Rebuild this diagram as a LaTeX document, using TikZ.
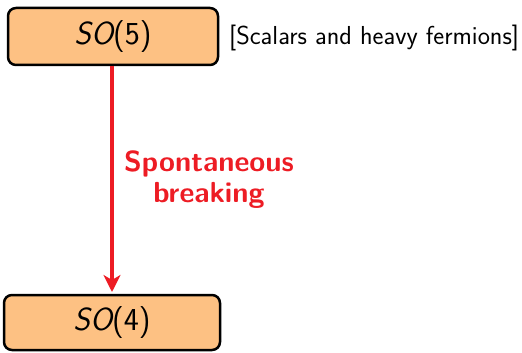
\documentclass[tikz,border=0pt]{standalone}
\usepackage{fontspec}
\usetikzlibrary{arrows.meta}
\definecolor{boxfill}{RGB}{253,193,131}
\definecolor{brkred}{RGB}{237,28,36}
\tikzset{
  grp/.style={draw=black, line width=2.5pt, fill=boxfill, rounded corners=8pt,
    font=\fontsize{32}{36}\selectfont\sffamily, inner sep=0pt},
  brk/.style={draw=brkred, line width=3.5pt, -{Stealth[length=17pt,width=17pt,inset=5pt]}},
}
\begin{document}
\begin{tikzpicture}[x=1pt,y=1pt]
\useasboundingbox (0,0) rectangle (522,-353);
\node[grp, minimum width=210pt, minimum height=57pt] (so5) at (113,-36.5) {\itshape SO\upshape(5)};
\node[grp, minimum width=216pt, minimum height=55pt] (so4) at (112,-322.5) {\itshape SO\upshape(4)};
\node[anchor=west, font=\fontsize{26}{30}\selectfont\sffamily, inner sep=0pt] (note) at (229,-38) {[Scalars and heavy fermions]};
\coordinate (top) at (112,-66);
\coordinate (bot) at (112,-292);
\draw[brk] (top) -- (bot);
\node[align=center, text=brkred, font=\fontsize{29}{31}\selectfont\sffamily\bfseries, inner sep=0pt] (lab) at (209,-180) {Spontaneous\\breaking};
\end{tikzpicture}
\end{document}
